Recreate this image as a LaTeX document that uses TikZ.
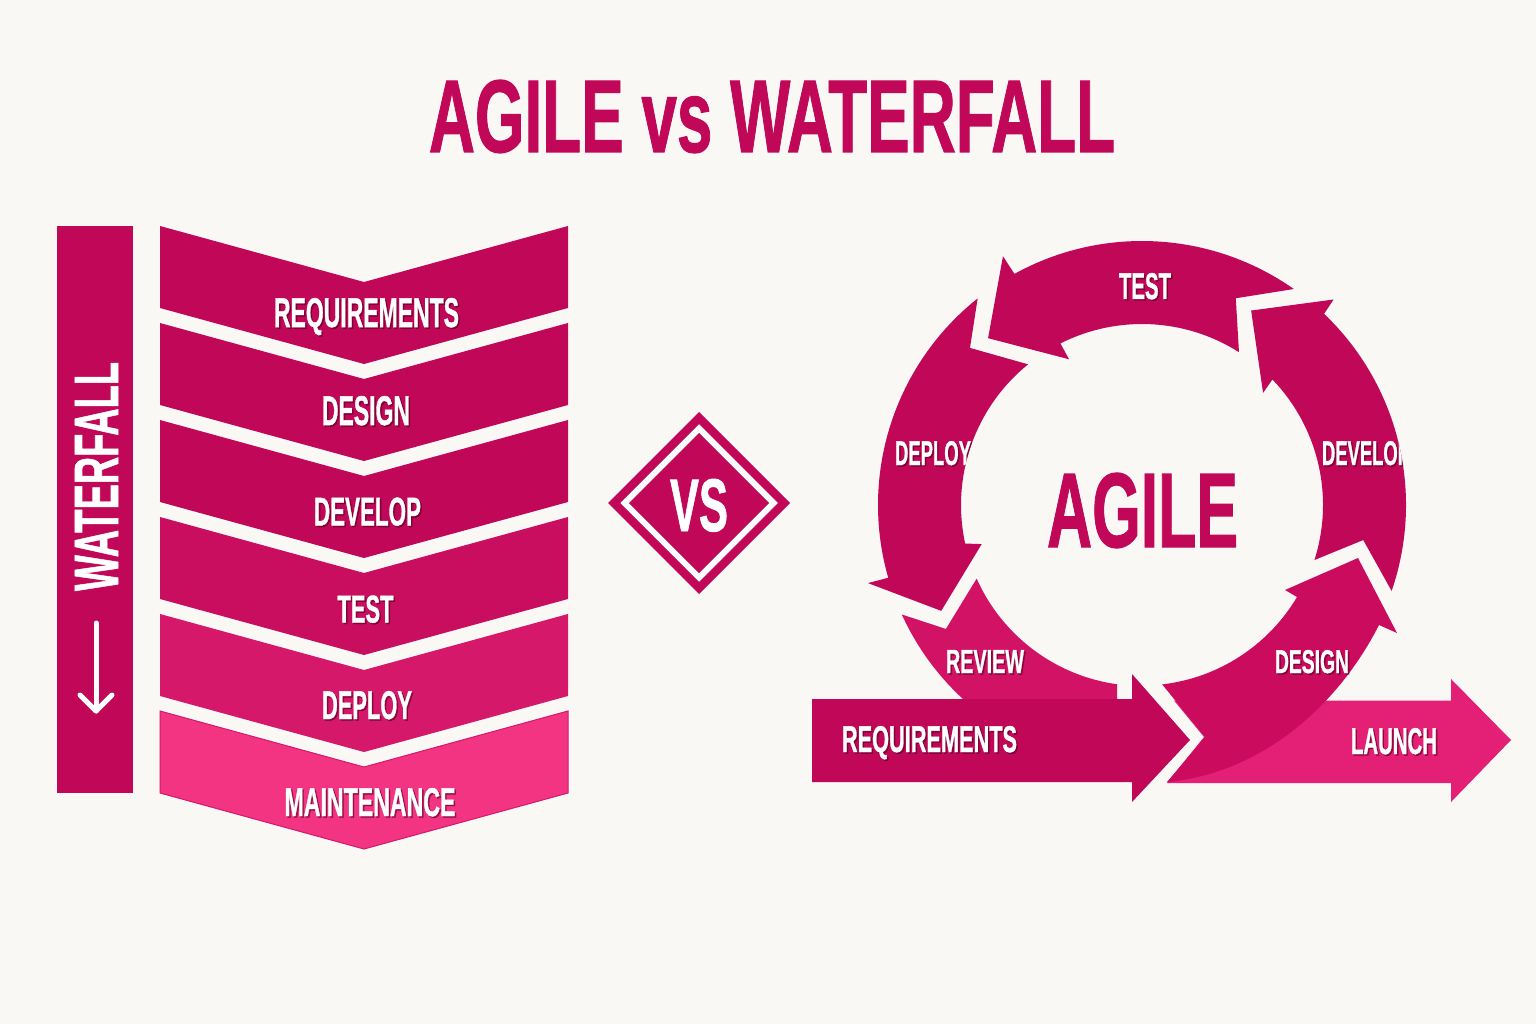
\documentclass[tikz,border=0pt]{standalone}
\usepackage{fontspec}
\setmainfont{Liberation Sans}
\newfontfamily\heavy{Liberation Sans Bold}[FakeBold=1.2]
\usepackage{graphicx}
\definecolor{bg}{RGB}{250,248,245}
\definecolor{pk}{RGB}{193,8,88}
\definecolor{pkfour}{RGB}{201,14,96}
\definecolor{pkfive}{RGB}{213,24,106}
\definecolor{pksix}{RGB}{242,52,130}
\definecolor{pkrev}{RGB}{210,18,100}
\definecolor{pkdes}{RGB}{203,12,94}
\definecolor{pklaunch}{RGB}{227,32,118}
\definecolor{shade}{RGB}{80,0,30}
\tikzset{
  lbl/.style={inner sep=0pt, anchor=base, text=white},
  shd/.style={inner sep=0pt, anchor=base, text=shade, opacity=0.55},
  ptxt/.style={inner sep=0pt, anchor=base, text=pk},
}
\newcommand\wlab[6]{%
  \node[shd, xshift=1.5pt, yshift=-1.5pt] at (#2,#3) {\resizebox{#4pt}{#5pt}{\heavy #6}};
  \node[lbl] (#1) at (#2,#3) {\resizebox{#4pt}{#5pt}{\heavy #6}};}
\begin{document}
\begin{tikzpicture}[x=1pt,y=-1pt]
\fill[bg] (0,0) rectangle (1536,1024);
\useasboundingbox (0,0) rectangle (1536,1024);

% title
\node[ptxt] (title) at (772,152) {\resizebox{686pt}{72pt}{\heavy AGILE vs WATERFALL}};

% waterfall side bar
\fill[pk] (57,226) rectangle (133,793);
\node[lbl, rotate=90] (wf) at (118,476.5) {\resizebox{229pt}{43pt}{\heavy WATERFALL}};
\coordinate (wa) at (96,623);
\coordinate (wb) at (96,711);
\draw[white, line width=5, line cap=round, line join=round] (wa) -- (wb);
\draw[white, line width=5, line cap=round, line join=round] (80,695) -- (96,711) -- (112,695);

% chevron bands
\foreach \i/\c in {0/pk,1/pk,2/pk,3/pkfour,4/pkfive,5/pksix} {
  \pgfmathsetmacro\t{226+97*\i}
  \fill[\c] (160,\t) -- (364,\t+56) -- (568,\t) -- (568,\t+82) -- (364,\t+138) -- (160,\t+82) -- cycle;
}
\draw[pkfive, line width=1] (160,711) -- (364,767) -- (568,711) -- (568,793) -- (364,849) -- (160,793) -- cycle;

\wlab{w1}{366.5}{327}{185}{29}{REQUIREMENTS}
\wlab{w2}{366}{425}{88}{29}{DESIGN}
\wlab{w3}{367.5}{525.5}{107}{28}{DEVELOP}
\wlab{w4}{365.5}{622.5}{56}{27}{TEST}
\wlab{w5}{367}{719}{90}{28}{DEPLOY}
\wlab{w6}{370}{816}{171}{28}{MAINTENANCE}

% VS diamond
\fill[pk] (608,503) -- (699,412) -- (790,503) -- (699,594) -- cycle;
\draw[white, line width=6] (624.5,503) -- (699,428.5) -- (773.5,503) -- (699,577.5) -- cycle;
\node[lbl] (vs) at (699,531) {\resizebox{58pt}{52pt}{\heavy VS}};

% launch arrow (behind design)
\fill[pklaunch] (1174,700.5) -- (1451,700.5) -- (1451,679) -- (1511,740) -- (1451,802) -- (1451,783) -- (1167,783) -- (1204,737) -- cycle;

% agile cycle
\begin{scope}[shift={(1142,505)}]
  % develop
  \fill[pk] (19:264) arc[start angle=19, end angle=-46.4, radius=264] -- (-47:281) -- (-60.7:223) -- (-42.8:165) -- (-43.9:181) arc[start angle=-43.9, end angle=17.7, radius=181] -- (9:224) -- cycle;
  % test
  \fill[pk] (-54.9:264) arc[start angle=-54.9, end angle=-118.9, radius=264] -- (-119.2:285) -- (-132.7:227) -- (-116.6:163) -- (-116.8:181) arc[start angle=-116.8, end angle=-57.6, radius=181] -- (-65.6:227) -- cycle;
  % deploy
  \fill[pk] (-128.5:264) arc[start angle=-128.5, end angle=-196, radius=264] -- (-195.9:285) -- (-207.8:227) -- (-193.7:165) -- (-192.3:181) arc[start angle=-192.3, end angle=-129, radius=181] -- (-137.6:233) -- cycle;
  % review
  \fill[pkrev] (155.5:264) arc[start angle=155.5, end angle=95.4, radius=264] -- (97.9:181) arc[start angle=97.9, end angle=156, radius=181] -- (147.7:232) -- cycle;
  % design
  \fill[pkdes] (25,277) .. controls (117.6,268.6) and (194.8,202.9) .. (237,120) -- (255,128) -- (216,53) -- (143,85) -- (155,92) arc[start angle=30.7, end angle=83.4, radius=181] -- (63,232) -- cycle;
\end{scope}

% requirements arrow
\fill[pk] (812,699) -- (1132,699) -- (1132,674) -- (1190,740) -- (1132,802) -- (1132,782) -- (812,782) -- cycle;

\node[ptxt] (agile) at (1142.5,547) {\resizebox{191pt}{74pt}{\heavy AGILE}};

\wlab{atest}{1145}{299}{52}{26}{TEST}
\begin{scope}[even odd rule]
  \clip (1142,505) circle[radius=264] (1142,505) circle[radius=181];
  \wlab{adeploy}{933}{465}{76}{24}{DEPLOY}
  \wlab{adevelop}{1366}{465}{88}{24}{DEVELOP}
\end{scope}
\wlab{areview}{985}{673}{78}{23}{REVIEW}
\wlab{adesign}{1312}{673}{74}{23}{DESIGN}
\wlab{areq}{929.5}{752}{175}{26}{REQUIREMENTS}
\wlab{alaunch}{1394}{754}{86}{26}{LAUNCH}
\end{tikzpicture}
\end{document}
